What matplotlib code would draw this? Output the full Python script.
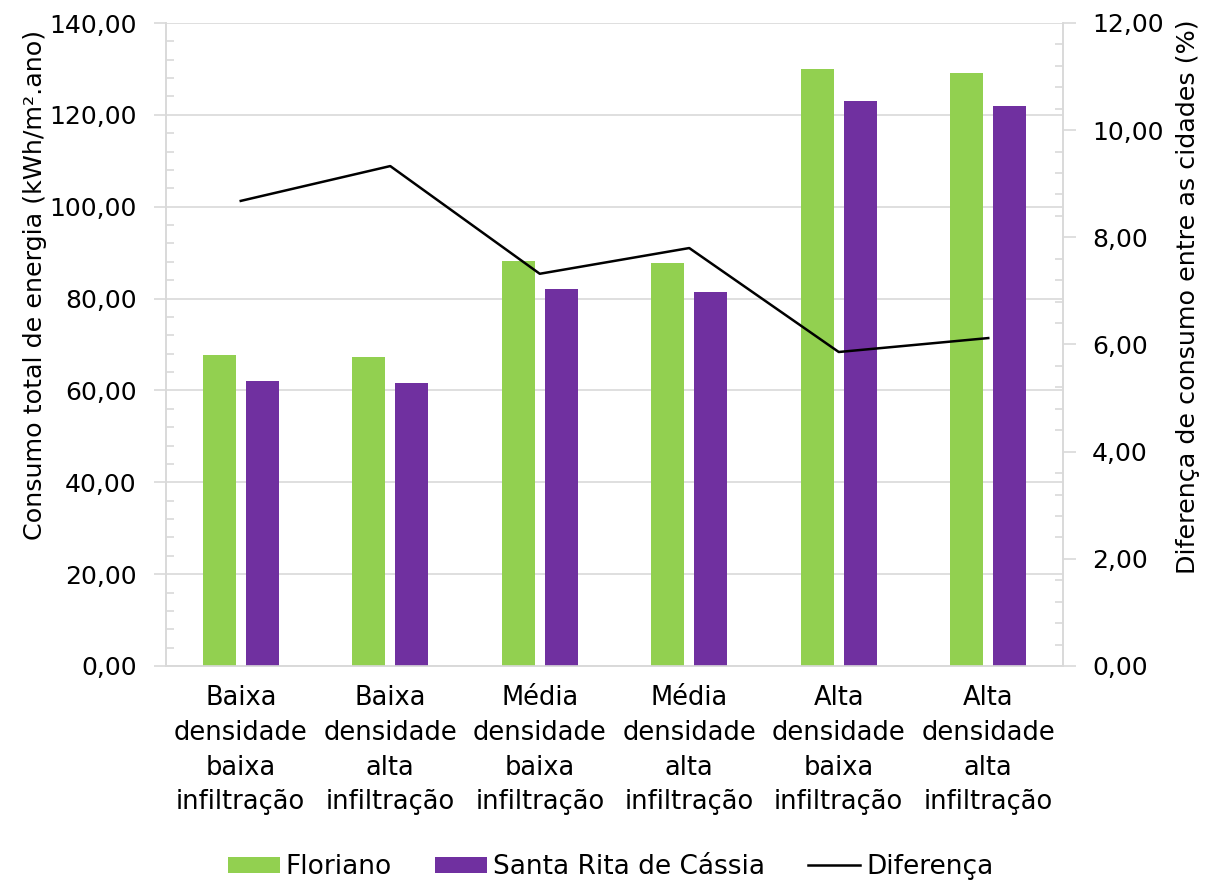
import matplotlib
matplotlib.use("Agg")
import matplotlib.pyplot as plt
import numpy as np
from matplotlib.ticker import FuncFormatter, MultipleLocator, AutoMinorLocator

plt.rcParams['font.family'] = ['DejaVu Sans']

categories = [
    "Baixa\ndensidade\nbaixa\ninfiltração",
    "Baixa\ndensidade\nalta\ninfiltração",
    "Média\ndensidade\nbaixa\ninfiltração",
    "Média\ndensidade\nalta\ninfiltração",
    "Alta\ndensidade\nbaixa\ninfiltração",
    "Alta\ndensidade\nalta\ninfiltração",
]
floriano = [67.7, 67.3, 88.2, 87.7, 130.0, 129.1]
santa_rita = [62.1, 61.6, 82.1, 81.4, 123.0, 121.9]
diferenca = [8.68, 9.33, 7.32, 7.80, 5.86, 6.12]

green = "#92d050"
purple = "#7030a0"
grid_c = "#d9d9d9"
fs_tick = 18
fs_cat = 18.5
fs_lab = 18.3
fs_leg = 19

def comma_fmt(v, pos):
    return f"{v:.2f}".replace(".", ",")

fig = plt.figure(figsize=(12.16, 8.84), dpi=100)
ax = fig.add_axes([166 / 1216, 1 - 666 / 884, (1063 - 166) / 1216, (666 - 23) / 884])
ax2 = ax.twinx()

x = np.arange(len(categories))
w = 0.22
off = 0.144
b1 = ax.bar(x - off, floriano, w, color=green, label="Floriano", zorder=3)
b2 = ax.bar(x + off, santa_rita, w, color=purple, label="Santa Rita de Cássia", zorder=3)
ln, = ax2.plot(x, diferenca, color="black", lw=1.8, label="Diferença")

ax.set_xlim(-0.5, len(categories) - 0.5)
ax.set_ylim(0, 140)
ax2.set_ylim(0, 12)

ax.yaxis.set_major_locator(MultipleLocator(20))
ax.yaxis.set_minor_locator(AutoMinorLocator(5))
ax2.yaxis.set_major_locator(MultipleLocator(2))
ax2.yaxis.set_minor_locator(AutoMinorLocator(5))
ax.yaxis.set_major_formatter(FuncFormatter(comma_fmt))
ax2.yaxis.set_major_formatter(FuncFormatter(comma_fmt))

ax.grid(axis="y", which="major", color=grid_c, lw=1.2, zorder=0)
ax.set_axisbelow(True)

for a in (ax, ax2):
    for s in a.spines.values():
        s.set_color(grid_c)
        s.set_linewidth(1.2)
    a.spines["top"].set_visible(False)

for a in (ax, ax2):
    a.tick_params(axis="y", which="major", direction="out", length=9, width=1.2,
                  color=grid_c, labelsize=fs_tick, pad=12)
    a.tick_params(axis="y", which="minor", direction="in", length=6, width=1.2,
                  color=grid_c)

ax.set_xticks(x)
ax.set_xticklabels(categories, fontsize=fs_cat, linespacing=1.43)
ax.tick_params(axis="x", length=0, pad=14)

ax.set_ylabel("Consumo total de energia (kWh/m².ano)", fontsize=fs_lab)
ax2.set_ylabel("Diferença de consumo entre as cidades (%)", fontsize=fs_lab)
ax.yaxis.set_label_coords(-0.1327, 0.5925)
ax2.yaxis.set_label_coords(1.126, 0.574)

fig.legend(handles=[b1, b2, ln], loc="center", bbox_to_anchor=(0.502, 1 - 867 / 884),
           ncol=3, frameon=False, fontsize=fs_leg, handlelength=1.97,
           handleheight=0.57, handletextpad=0.23, columnspacing=1.63)

fig.savefig("out.png", dpi=100)
